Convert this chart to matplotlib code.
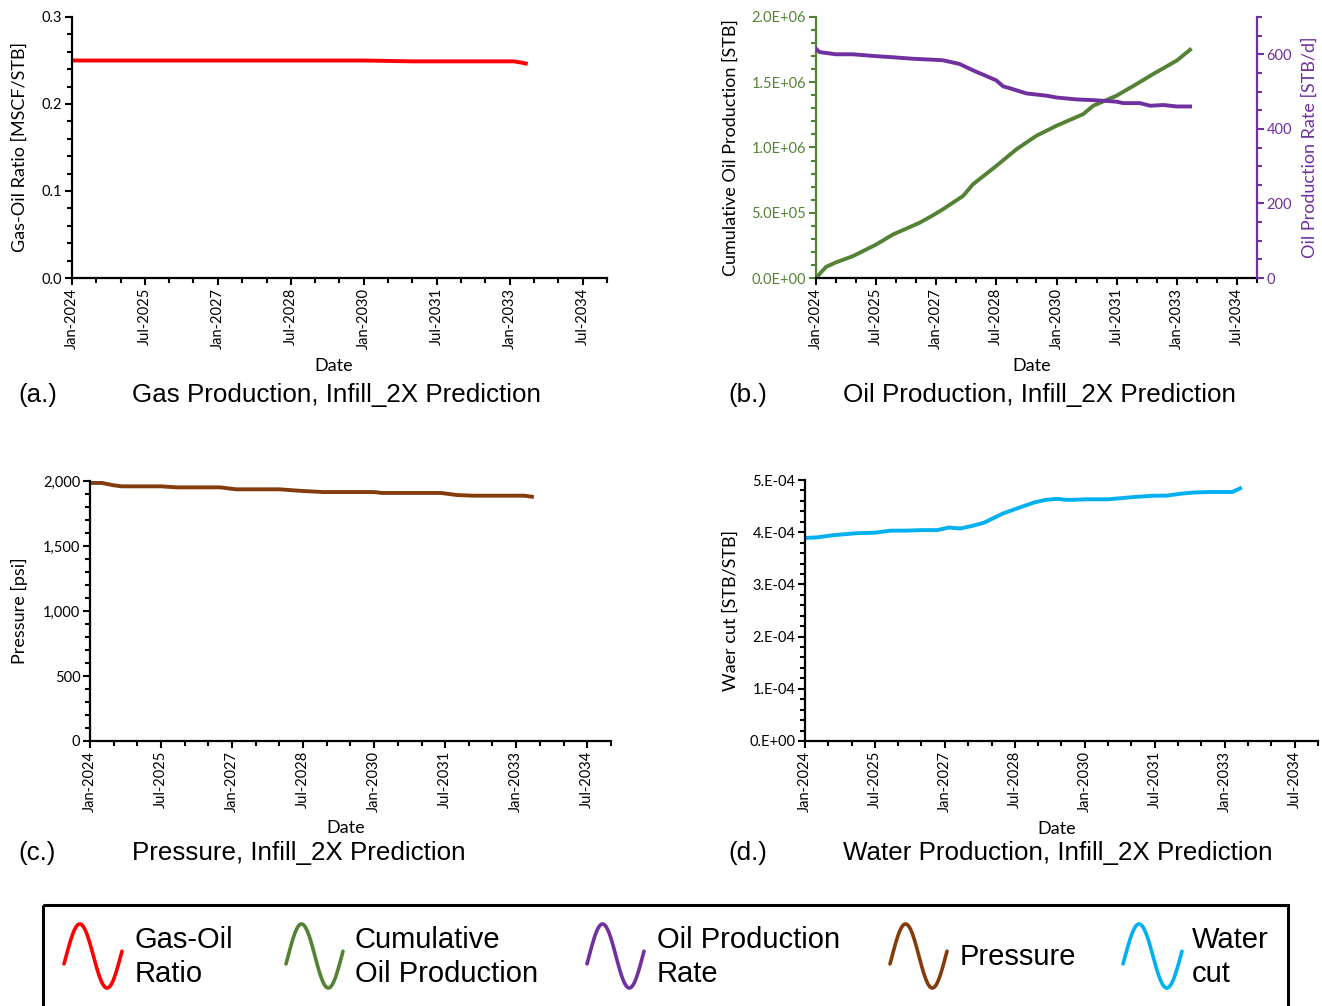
import matplotlib
matplotlib.use("Agg")
import matplotlib.pyplot as plt
import matplotlib.dates as mdates
import matplotlib.ticker as ticker
import numpy as np
import pandas as pd

# Figure size in pixels (dpi 100).
W, H = 1322, 1006

RED = "#FF0000"
GREEN = "#548235"
PURPLE = "#7030A0"
BROWN = "#843C0C"
BLUE = "#00B0F0"

# Gas-oil ratio [MSCF/STB]
gor_dates = ["2024-01", "2026-01", "2028-01", "2030-01", "2030-07", "2031-01",
             "2032-01", "2033-01", "2033-02", "2033-04", "2033-05"]
gor = [0.250, 0.250, 0.250, 0.250, 0.2495, 0.249, 0.249, 0.249, 0.249, 0.2475, 0.2465]

# Cumulative oil production [STB]
cum_dates = ["2024-01", "2024-04", "2024-07", "2024-12", "2025-07", "2025-12",
             "2026-08", "2026-12", "2027-03", "2027-09", "2027-12", "2028-07",
             "2029-01", "2029-07", "2030-01", "2030-09", "2030-12", "2031-07",
             "2032-01", "2032-06", "2032-09", "2033-01", "2033-05"]
cum_oil = [0.0, 0.085e6, 0.12e6, 0.167e6, 0.256e6, 0.333e6,
           0.423e6, 0.48e6, 0.526e6, 0.628e6, 0.718e6, 0.859e6,
           0.987e6, 1.09e6, 1.167e6, 1.256e6, 1.32e6, 1.397e6,
           1.487e6, 1.564e6, 1.608e6, 1.667e6, 1.749e6]

# Oil production rate [STB/d]
rate_dates = ["2024-01", "2024-02", "2024-07", "2024-12", "2025-07", "2025-12",
              "2026-06", "2027-01", "2027-03", "2027-08", "2027-12", "2028-07",
              "2028-09", "2028-11", "2029-04", "2029-10", "2030-01", "2030-07",
              "2030-12", "2031-07", "2031-09", "2032-02", "2032-05", "2032-09",
              "2033-01", "2033-05"]
oil_rate = [615, 606, 600, 600, 595, 592, 588, 585, 584, 574, 557, 530,
            514, 509, 495, 489, 484, 479, 477, 473, 469, 469, 462, 464,
            460, 460]

# Pressure [psi]
pres_dates = ["2024-01", "2024-04", "2024-07", "2024-09", "2025-07", "2025-11",
              "2026-10", "2027-02", "2028-01", "2028-07", "2028-12", "2030-01",
              "2030-03", "2031-06", "2031-10", "2032-02", "2033-03", "2033-05"]
pressure = [1985, 1985, 1967, 1959, 1959, 1951, 1951, 1936, 1936, 1923, 1915,
            1915, 1908, 1908, 1892, 1887, 1887, 1879]

# Water cut [STB/STB]
wc_dates = ["2024-01", "2024-04", "2024-08", "2025-02", "2025-07", "2025-11",
            "2026-03", "2026-07", "2026-11", "2027-02", "2027-05", "2027-08",
            "2027-11", "2028-04", "2028-07", "2028-12", "2029-03", "2029-06",
            "2029-08", "2029-10", "2030-01", "2030-07", "2031-01", "2031-07",
            "2031-10", "2032-02", "2032-05", "2032-09", "2033-03", "2033-05"]
water_cut = [3.89e-4, 3.90e-4, 3.94e-4, 3.98e-4, 3.99e-4, 4.03e-4,
             4.03e-4, 4.04e-4, 4.04e-4, 4.09e-4, 4.07e-4, 4.12e-4,
             4.18e-4, 4.36e-4, 4.44e-4, 4.57e-4, 4.62e-4, 4.64e-4,
             4.62e-4, 4.62e-4, 4.63e-4, 4.63e-4, 4.67e-4, 4.70e-4,
             4.70e-4, 4.74e-4, 4.76e-4, 4.77e-4, 4.77e-4, 4.84e-4]

legend_labels = ["Gas-Oil\nRatio", "Cumulative\nOil Production",
                 "Oil Production\nRate", "Pressure", "Water\ncut"]
legend_colors = [RED, GREEN, PURPLE, BROWN, BLUE]

X_START = pd.Timestamp("2024-01-01")
X_END = pd.Timestamp("2035-01-01")
major_dates = pd.date_range("2024-01-01", "2034-07-01", freq="18MS")
minor_dates = pd.date_range("2024-01-01", "2035-01-01", freq="6MS")

plt.rcParams["font.family"] = ["Lato", "DejaVu Sans"]
TITLE_FONT = ["Liberation Sans", "DejaVu Sans"]
TICK_SIZE = 10.5
LABEL_SIZE = 13


def px_axes(fig, left, top, right, bottom):
    return fig.add_axes([left / W, 1 - bottom / H, (right - left) / W, (bottom - top) / H])


def to_dates(values):
    return pd.to_datetime(values, format="%Y-%m")


def style_axes(ax):
    ax.set_xlim(X_START, X_END)
    ax.xaxis.set_major_locator(ticker.FixedLocator(mdates.date2num(major_dates)))
    ax.xaxis.set_minor_locator(ticker.FixedLocator(mdates.date2num(minor_dates)))
    ax.xaxis.set_major_formatter(mdates.DateFormatter("%b-%Y"))
    ax.tick_params(axis="x", which="major", labelrotation=90)
    ax.tick_params(which="major", direction="out", length=5, width=1.5,
                   labelsize=TICK_SIZE, pad=2)
    ax.tick_params(which="minor", direction="out", length=3.5, width=1.5)
    for side in ["top", "right"]:
        ax.spines[side].set_visible(False)
    for side in ["left", "bottom"]:
        ax.spines[side].set_linewidth(1.6)
    ax.set_xlabel("Date", fontsize=LABEL_SIZE)
    ax.xaxis.set_label_coords(0.49, -0.305)


fig = plt.figure(figsize=(W / 100, H / 100), dpi=100)

# (a) Gas-oil ratio
ax_a = px_axes(fig, 72, 17, 607, 278)
ax_a.plot(to_dates(gor_dates), gor, color=RED, lw=2.8)
ax_a.set_ylim(0, 0.3)
ax_a.yaxis.set_major_locator(ticker.MultipleLocator(0.1))
ax_a.yaxis.set_minor_locator(ticker.MultipleLocator(0.02))
ax_a.yaxis.set_major_formatter(ticker.FormatStrFormatter("%.1f"))
style_axes(ax_a)
ax_a.set_ylabel("Gas-Oil Ratio [MSCF/STB]", fontsize=LABEL_SIZE)
ax_a.yaxis.set_label_coords(-0.082, 0.5)

# (b) Oil production
ax_b = px_axes(fig, 816, 17, 1257, 278)
ax_b.plot(to_dates(cum_dates), cum_oil, color=GREEN, lw=2.8)
ax_b.set_ylim(0, 2.0e6)
ax_b.yaxis.set_major_locator(ticker.MultipleLocator(5e5))
ax_b.yaxis.set_minor_locator(ticker.MultipleLocator(1e5))
ax_b.yaxis.set_major_formatter(ticker.FuncFormatter(lambda v, p: f"{v:.1E}"))
style_axes(ax_b)
ax_b.spines["left"].set_color(GREEN)
ax_b.tick_params(axis="y", which="both", colors=GREEN)
ax_b.set_ylabel("Cumulative Oil Production [STB]", fontsize=LABEL_SIZE)
ax_b.yaxis.set_label_coords(-0.175, 0.5)

ax_b2 = ax_b.twinx()
ax_b2.plot(to_dates(rate_dates), oil_rate, color=PURPLE, lw=2.8)
ax_b2.set_ylim(0, 700)
ax_b2.yaxis.set_major_locator(ticker.MultipleLocator(200))
ax_b2.yaxis.set_minor_locator(ticker.MultipleLocator(50))
for side in ["top", "left", "bottom"]:
    ax_b2.spines[side].set_visible(False)
ax_b2.spines["right"].set_color(PURPLE)
ax_b2.spines["right"].set_linewidth(1.6)
ax_b2.tick_params(axis="y", which="major", colors=PURPLE, direction="out", length=5,
                  width=1.5, labelsize=TICK_SIZE, pad=2)
ax_b2.tick_params(axis="y", which="minor", colors=PURPLE, direction="out", length=3.5, width=1.5)
ax_b2.set_ylabel("Oil Production Rate [STB/d]", fontsize=LABEL_SIZE, color=PURPLE)
ax_b2.yaxis.set_label_coords(1.100, 0.5)

# (c) Pressure
ax_c = px_axes(fig, 90, 481, 611, 741)
ax_c.plot(to_dates(pres_dates), pressure, color=BROWN, lw=2.8)
ax_c.set_ylim(0, 2000)
ax_c.yaxis.set_major_locator(ticker.MultipleLocator(500))
ax_c.yaxis.set_minor_locator(ticker.MultipleLocator(100))
ax_c.yaxis.set_major_formatter(ticker.StrMethodFormatter("{x:,.0f}"))
style_axes(ax_c)
ax_c.set_ylabel("Pressure [psi]", fontsize=LABEL_SIZE)
ax_c.yaxis.set_label_coords(-0.119, 0.5)

# (d) Water cut
ax_d = px_axes(fig, 805, 480, 1318, 741)
ax_d.plot(to_dates(wc_dates), water_cut, color=BLUE, lw=2.8)
ax_d.set_ylim(0, 5e-4)
ax_d.yaxis.set_major_locator(ticker.MultipleLocator(1e-4))
ax_d.yaxis.set_minor_locator(ticker.MultipleLocator(2e-5))
ax_d.yaxis.set_major_formatter(ticker.FuncFormatter(lambda v, p: f"{v:#.0E}"))
style_axes(ax_d)
ax_d.set_ylabel("Waer cut [STB/STB]", fontsize=LABEL_SIZE)
ax_d.yaxis.set_label_coords(-0.129, 0.5)

# Panel captions
captions = [
    (18, 132, 395, "(a.)", "Gas Production, Infill_2X Prediction"),
    (728, 843, 395, "(b.)", "Oil Production, Infill_2X Prediction"),
    (18, 132, 853, "(c.)", "Pressure, Infill_2X Prediction"),
    (728, 843, 853, "(d.)", "Water Production, Infill_2X Prediction"),
]
for x_tag, x_txt, y, tag, title in captions:
    fig.text(x_tag / W, 1 - y / H, tag, fontsize=18.7, family=TITLE_FONT, va="center")
    fig.text(x_txt / W, 1 - y / H, title, fontsize=18.7, family=TITLE_FONT, va="center")

# Shared legend drawn in pixel coordinates
ax_leg = fig.add_axes([0, 0, 1, 1])
ax_leg.set_xlim(0, W)
ax_leg.set_ylim(H, 0)
ax_leg.axis("off")
ax_leg.patch.set_visible(False)
ax_leg.add_patch(plt.Rectangle((43, 905), 1288 - 43, 130, fill=False,
                               edgecolor="black", lw=2.2, clip_on=False))

icon_x = [(64, 122), (286, 343), (587, 644), (890, 947), (1123, 1182)]
text_x = [135, 355, 657, 960, 1192]
t = np.linspace(0, 1, 120)
theta = -0.25 + t * (2 * np.pi + 0.4)
for (x0, x1), tx, label, color in zip(icon_x, text_x, legend_labels, legend_colors):
    ax_leg.plot(x0 + t * (x1 - x0), 956 - 32 * np.sin(theta), color=color, lw=2.6,
                solid_capstyle="round")
    ax_leg.text(tx, 957, label, fontsize=21, family=TITLE_FONT, va="center",
                ha="left", linespacing=1.3)

fig.savefig("out.png", dpi=100)
